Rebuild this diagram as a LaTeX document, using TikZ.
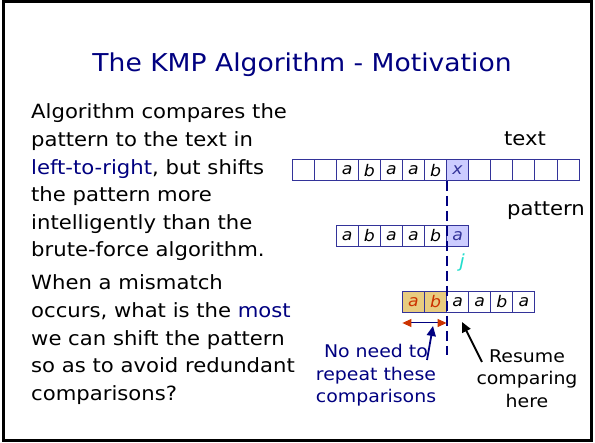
\documentclass[tikz,border=0pt]{standalone}
\usepackage{fontspec}
\usetikzlibrary{arrows.meta}
\newfontfamily\cs[FakeStretch=1.08]{DejaVu Sans}
\definecolor{navy}{HTML}{000080}
\definecolor{cellblue}{HTML}{333399}
\definecolor{lav}{HTML}{CCCCFF}
\definecolor{gold}{HTML}{E8CC80}
\definecolor{redd}{HTML}{CC3300}
\definecolor{jcol}{HTML}{22DDCC}
\tikzset{
  cell/.style={draw=cellblue, line width=0.9pt, minimum width=22.08pt, minimum height=21pt, inner sep=0pt, font=\cs\itshape\fontsize{16}{16}\selectfont, text=black},
  body/.style={anchor=base west, inner sep=0pt, font=\cs\fontsize{19.6}{19.6}\selectfont},
  lbl/.style={anchor=base, inner sep=0pt, font=\cs\fontsize{17.5}{17.5}\selectfont, align=center},
}
\begin{document}
\begin{tikzpicture}[x=1pt,y=-1pt]
\useasboundingbox (0,0) rectangle (595,443);
\draw[line width=3pt] (3.5,2) rectangle (591.5,440.5);
\node[anchor=base, inner sep=0pt, text=navy, font=\cs\fontsize{24.6}{24.6}\selectfont] (title) at (302,72) {The KMP Algorithm - Motivation};
% body text
\node[body] (l1) at (31,119) {Algorithm compares the};
\node[body] (l2) at (31,147) {pattern to the text in};
\node[body] (l3) at (31,174.5) {\textcolor{navy}{left-to-right}, but shifts};
\node[body] (l4) at (31,202) {the pattern more};
\node[body] (l5) at (31,230) {intelligently than the};
\node[body] (l6) at (31,257) {brute-force algorithm.};
\node[body] (l7) at (31,290) {When a mismatch};
\node[body] (l8) at (31,318) {occurs, what is the \textcolor{navy}{most}};
\node[body] (l9) at (31,346) {we can shift the pattern};
\node[body] (l10) at (31,373) {so as to avoid redundant};
\node[body] (l11) at (31,401) {comparisons?};
% labels
\node[anchor=base, inner sep=0pt, font=\cs\fontsize{19.6}{19.6}\selectfont] (textlbl) at (525,146) {text};
\node[anchor=base, inner sep=0pt, font=\cs\fontsize{19.6}{19.6}\selectfont] (patlbl) at (546,216) {pattern};
% text row
\foreach \i/\c in {0/,1/,2/a,3/b,4/a,5/a,6/b,7/x,8/,9/,10/,11/,12/}{
  \node[cell, minimum height=20.5pt] (t\i) at ({292+22.08*\i+11.04},170.2) {\c};
}
\node[cell, fill=lav, minimum height=20.5pt, text=cellblue] at (t7) {x};
% pattern row
\foreach \i/\c in {0/a,1/b,2/a,3/a,4/b}{
  \node[cell] (p\i) at ({336.16+22.08*\i+11.04},236) {\c};
}
\node[cell, fill=lav, text=cellblue] (p5) at ({336.16+22.08*5+11.04},236) {a};
% shifted pattern row
\node[cell, fill=gold, text=redd] (q0) at ({402.4+11.04},302) {a};
\node[cell, fill=gold, text=redd] (q1) at ({402.4+22.08+11.04},302) {b};
\foreach \i/\c in {2/a,3/a,4/b,5/a}{
  \node[cell] (q\i) at ({402.4+22.08*\i+11.04},302) {\c};
}
% dashed mismatch line
\coordinate (dend) at (t6.south east |- 0,355);
\draw[navy, line width=1.6pt, dash pattern=on 10pt off 5pt] (t6.south east) -- (dend);
\node[text=jcol, inner sep=0pt, font=\cs\itshape\fontsize{18}{18}\selectfont] (j) at (462,263) {j};
% double arrow
\coordinate (da) at (402.4,323);
\coordinate (db) at (446.6,323);
\draw[navy, line width=1pt, {Triangle[length=9pt,width=8pt,color=redd]}-{Triangle[length=9pt,width=8pt,color=redd]}] (da) -- (db);
% labels below
\node[lbl, text=navy] (noneed) at (376,358) {No need to};
\node[lbl, text=navy] (repeat) at (376,381) {repeat these};
\node[lbl, text=navy] (comps) at (376,403) {comparisons};
\coordinate (na) at (433,326);
\coordinate (nb) at (427,360);
\draw[navy, line width=1.8pt, -{Triangle[length=10pt,width=9pt]}] (nb) -- (na);
\node[lbl] (resume) at (527,363) {Resume};
\node[lbl] (comparing) at (527,385) {comparing};
\node[lbl] (here) at (527,408) {here};
\coordinate (ra) at (462,322);
\coordinate (rb) at (482,362);
\draw[black, line width=1.8pt, -{Triangle[length=10pt,width=9pt]}] (rb) -- (ra);
\end{tikzpicture}
\end{document}
